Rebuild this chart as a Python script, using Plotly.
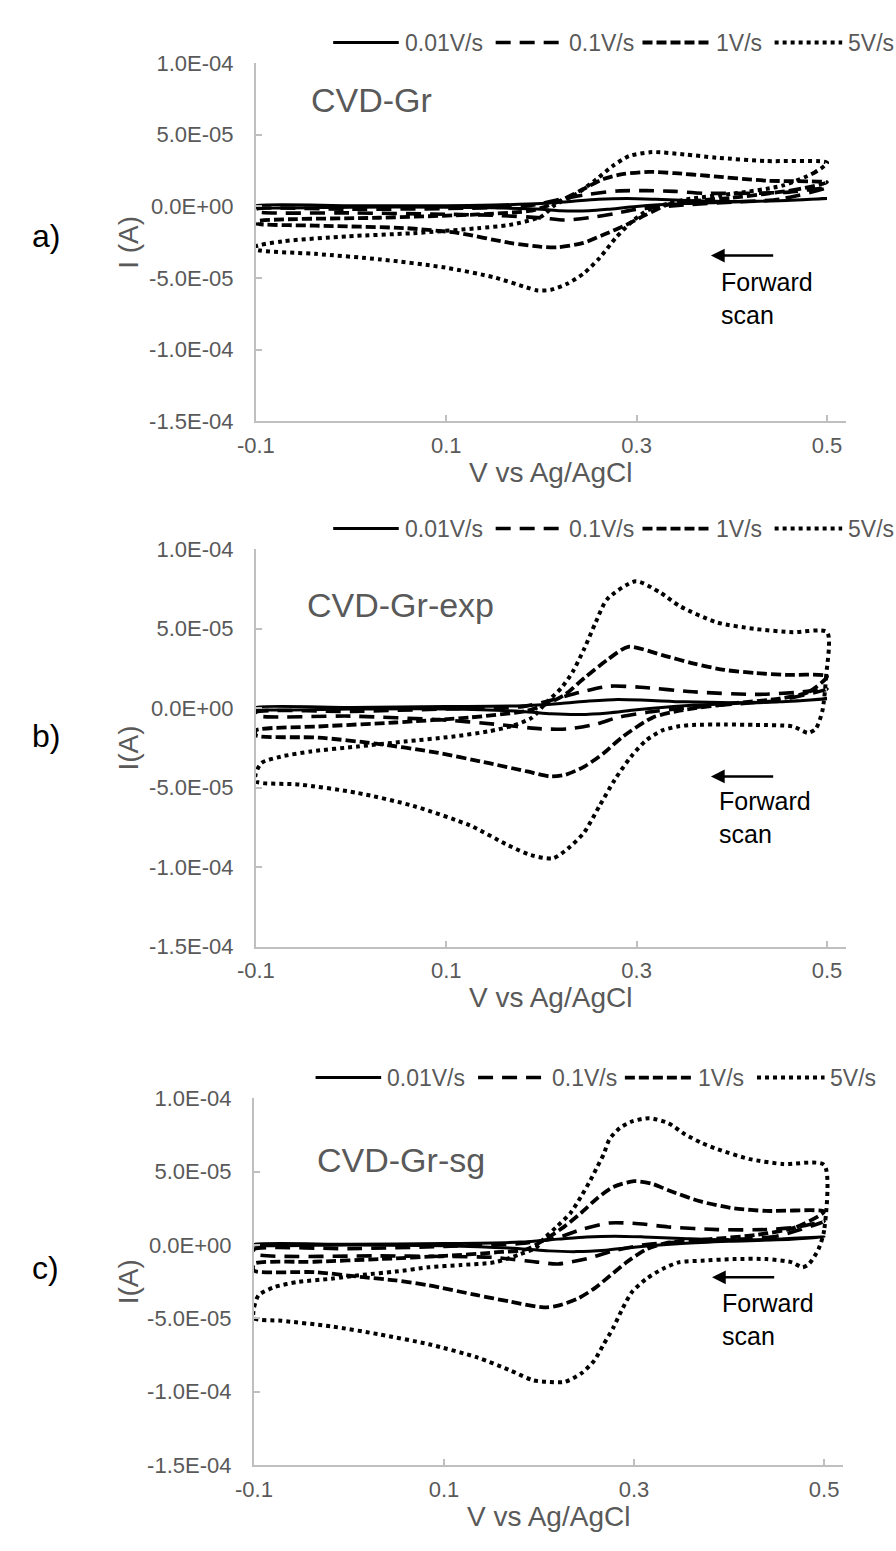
import plotly.graph_objects as go

W, H = 896, 1551
FONT = "Liberation Sans, Arial, sans-serif"
GRAY = "#595959"
AXC = "#bfbfbf"
SCALE = 1e-5  # current values below are in units of 1e-5 A

RATES = ["0.01V/s", "0.1V/s", "1V/s", "5V/s"]
X_TICKS = [-0.1, 0.1, 0.3, 0.5]
X_TICKTEXT = ["-0.1", "0.1", "0.3", "0.5"]
Y_TICKS = [1.0e-4, 5.0e-5, 0.0, -5.0e-5, -1.0e-4, -1.5e-4]
Y_TICKTEXT = ["1.0E-04", "5.0E-05", "0.0E+00", "-5.0E-05", "-1.0E-04", "-1.5E-04"]

# ---------------- panel a) CVD-Gr ----------------
A_V_001 = [0.5, 0.45, 0.4, 0.35, 0.3, 0.27, 0.25, 0.22, 0.2, 0.15, 0.1, 0.0, -0.1,
           -0.1, 0.0, 0.1, 0.15, 0.2, 0.23, 0.26, 0.29, 0.32, 0.36, 0.4, 0.45, 0.5]
A_I_001 = [0.55, 0.4, 0.3, 0.2, 0.0, -0.2, -0.3, -0.3, -0.2, -0.1, -0.05, -0.05, -0.05,
           0.05, 0.05, 0.05, 0.1, 0.2, 0.35, 0.5, 0.55, 0.5, 0.4, 0.35, 0.4, 0.55]
A_V_01 = [0.5, 0.45, 0.4, 0.35, 0.3, 0.278, 0.25, 0.224, 0.2, 0.15, 0.1, 0.0, -0.1,
          -0.1, 0.0, 0.1, 0.18, 0.2, 0.22, 0.25, 0.28, 0.31, 0.34, 0.37, 0.42, 0.46, 0.5]
A_I_01 = [1.3, 0.5, 0.3, 0.1, -0.2, -0.49, -0.79, -0.95, -0.8, -0.62, -0.55, -0.45, -0.35,
          -0.2, -0.2, -0.15, 0.0, 0.2, 0.5, 0.85, 1.08, 1.1, 1.05, 0.92, 0.92, 1.0, 1.3]
A_V_1 = [0.5, 0.47, 0.436, 0.4, 0.367, 0.333, 0.309, 0.289, 0.265, 0.244, 0.217, 0.2, 0.167,
         0.113, 0.058, -0.038, -0.1,
         -0.1, 0.03, 0.133, 0.19, 0.2, 0.217, 0.241, 0.265, 0.285, 0.313, 0.34, 0.374, 0.436, 0.5]
A_I_1 = [1.68, 1.2, 0.88, 0.6, 0.42, 0.13, -0.61, -1.29, -1.98, -2.55, -2.85, -2.82, -2.55,
         -1.86, -1.52, -1.34, -1.18,
         -1.06, -0.79, -0.56, -0.3, -0.1, 0.31, 1.11, 1.91, 2.25, 2.41, 2.32, 2.14, 1.8, 1.68]
A_V_5 = [0.5, 0.487, 0.453, 0.4, 0.357, 0.333, 0.312, 0.295, 0.278, 0.261, 0.244, 0.227, 0.21,
         0.196, 0.184, 0.15, 0.099, 0.031, -0.038, -0.1,
         -0.1, -0.072, -0.004, 0.065, 0.133, 0.167, 0.2, 0.214, 0.237, 0.258, 0.275, 0.292,
         0.316, 0.35, 0.384, 0.436, 0.5]
A_I_5 = [3.05, 2.37, 1.45, 0.88, 0.54, 0.2, -0.26, -1.06, -2.2, -3.6, -4.7, -5.4, -5.82,
         -5.87, -5.65, -4.95, -4.27, -3.7, -3.31, -3.0,
         -2.8, -2.44, -2.09, -1.87, -1.52, -1.29, -0.7, 0.1, 0.88, 1.91, 2.83, 3.51,
         3.79, 3.63, 3.4, 3.17, 3.05]

# ---------------- panel b) CVD-Gr-exp ----------------
B_V_001 = [0.5, 0.45, 0.4, 0.35, 0.3, 0.27, 0.24, 0.21, 0.18, 0.1, 0.0, -0.1,
           -0.1, 0.0, 0.1, 0.18, 0.22, 0.25, 0.28, 0.31, 0.35, 0.4, 0.45, 0.5]
B_I_001 = [0.6, 0.4, 0.3, 0.15, -0.1, -0.3, -0.4, -0.35, -0.2, -0.05, -0.05, -0.05,
           0.05, 0.05, 0.1, 0.15, 0.3, 0.45, 0.55, 0.5, 0.4, 0.35, 0.4, 0.6]
B_V_01 = [0.5, 0.45, 0.4, 0.35, 0.31, 0.28, 0.258, 0.228, 0.2, 0.15, 0.1, 0.0, -0.1,
          -0.1, 0.0, 0.1, 0.18, 0.21, 0.24, 0.271, 0.304, 0.359, 0.425, 0.47, 0.5]
B_I_01 = [1.2, 0.5, 0.25, 0.0, -0.27, -0.58, -0.99, -1.3, -1.3, -1.0, -0.75, -0.5, -0.45,
          -0.25, -0.2, -0.05, 0.1, 0.5, 1.0, 1.38, 1.32, 1.03, 0.87, 1.0, 1.2]
B_V_1 = [0.5, 0.48, 0.45, 0.4, 0.345, 0.317, 0.285, 0.265, 0.245, 0.225, 0.209, 0.185, 0.145,
         0.085, 0.026, -0.034, -0.1,
         -0.1, -0.034, 0.046, 0.125, 0.185, 0.205, 0.225, 0.245, 0.269, 0.291, 0.327, 0.359,
         0.392, 0.425, 0.457, 0.5]
B_I_1 = [2.0, 1.0, 0.6, 0.3, -0.16, -0.58, -1.81, -2.85, -3.67, -4.19, -4.29, -3.98, -3.46,
         -2.74, -2.23, -1.85, -1.7,
         -1.4, -1.15, -0.9, -0.58, -0.16, 0.25, 0.87, 1.9, 3.03, 3.86, 3.34, 2.82,
         2.41, 2.21, 2.1, 2.0]
B_V_5 = [0.5, 0.499, 0.495, 0.488, 0.48, 0.464, 0.425, 0.392, 0.359, 0.343, 0.327, 0.31, 0.294,
         0.277, 0.261, 0.245, 0.228, 0.212, 0.189, 0.165, 0.125, 0.065, 0.006, -0.054, -0.1,
         -0.1, -0.094, -0.074, -0.042, 0.007, 0.056, 0.106, 0.145, 0.17, 0.19, 0.205, 0.221,
         0.233, 0.245, 0.257, 0.269, 0.299, 0.325, 0.345, 0.384, 0.424, 0.464, 0.5]
B_I_5 = [4.78, 2.0, -0.2, -1.3, -1.55, -1.15, -1.05, -1.03, -1.05, -1.15, -1.4, -2.02, -3.05,
         -4.5, -6.14, -7.8, -8.82, -9.44, -9.24, -8.62, -7.38, -6.14, -5.32, -4.8, -4.6,
         -4.1, -3.44, -3.05, -2.72, -2.41, -2.1, -1.79, -1.45, -1.1, -0.6, 0.35, 1.28,
         2.31, 3.75, 5.4, 6.85, 7.98, 7.26, 6.43, 5.4, 4.99, 4.78, 4.78]

# ---------------- panel c) CVD-Gr-sg ----------------
C_V_001 = [0.5, 0.45, 0.4, 0.35, 0.3, 0.27, 0.24, 0.21, 0.18, 0.1, 0.0, -0.1,
           -0.1, 0.0, 0.1, 0.18, 0.22, 0.25, 0.28, 0.31, 0.35, 0.4, 0.45, 0.5]
C_I_001 = [0.55, 0.35, 0.25, 0.1, -0.15, -0.35, -0.45, -0.4, -0.25, -0.05, 0.0, 0.0,
           0.05, 0.05, 0.1, 0.2, 0.4, 0.55, 0.6, 0.55, 0.45, 0.35, 0.4, 0.55]
C_V_01 = [0.5, 0.45, 0.405, 0.35, 0.313, 0.278, 0.251, 0.22, 0.2, 0.153, 0.101, 0.032, -0.1,
          -0.1, 0.0, 0.1, 0.18, 0.219, 0.244, 0.274, 0.305, 0.336, 0.388, 0.439, 0.47, 0.5]
C_I_01 = [1.6, 0.6, 0.38, 0.2, 0.04, -0.4, -0.92, -1.29, -1.18, -0.85, -0.78, -0.74, -0.6,
          -0.3, -0.25, -0.1, 0.1, 0.49, 1.05, 1.5, 1.45, 1.23, 1.05, 1.05, 1.2, 1.6]
C_V_1 = [0.5, 0.47, 0.43, 0.38, 0.336, 0.313, 0.292, 0.275, 0.258, 0.241, 0.22, 0.205, 0.17,
         0.135, 0.084, 0.049, 0.015, -0.036, -0.1,
         -0.1, -0.036, 0.032, 0.101, 0.153, 0.187, 0.209, 0.227, 0.244, 0.261, 0.278, 0.3,
         0.319, 0.336, 0.371, 0.405, 0.439, 0.5]
C_I_1 = [2.28, 1.2, 0.7, 0.4, 0.16, -0.29, -1.18, -2.08, -2.97, -3.64, -4.13, -4.25, -3.86,
         -3.42, -2.75, -2.41, -2.19, -1.85, -1.74,
         -1.29, -1.14, -0.96, -0.74, -0.51, -0.29, 0.49, 1.27, 2.17, 3.17, 3.95, 4.35,
         4.17, 3.73, 2.95, 2.5, 2.32, 2.28]
C_V_5 = [0.5, 0.5, 0.494, 0.484, 0.477, 0.466, 0.439, 0.405, 0.371, 0.347, 0.33, 0.313, 0.298,
         0.288, 0.278, 0.268, 0.258, 0.244, 0.227, 0.211, 0.194, 0.17, 0.135, 0.084, 0.032,
         -0.019, -0.071, -0.1,
         -0.1, -0.095, -0.078, -0.054, -0.019, 0.015, 0.049, 0.084, 0.118, 0.153, 0.18, 0.197,
         0.206, 0.219, 0.233, 0.244, 0.254, 0.261, 0.268, 0.274, 0.285, 0.298, 0.316, 0.336,
         0.354, 0.371, 0.388, 0.422, 0.457, 0.5]
C_I_5 = [5.45, 1.0, -0.29, -1.29, -1.52, -1.18, -0.96, -0.96, -1.07, -1.18, -1.63, -2.3, -3.19,
         -4.31, -5.65, -6.76, -7.88, -8.77, -9.33, -9.33, -9.22, -8.55, -7.66, -6.76, -6.09,
         -5.54, -5.16, -4.98,
         -4.31, -3.42, -2.86, -2.52, -2.3, -2.03, -1.81, -1.52, -1.36, -1.18, -0.63, -0.18,
         0.49, 1.27, 2.17, 3.28, 4.4, 5.29, 6.18, 7.19, 7.97, 8.42, 8.64, 8.3,
         7.52, 6.96, 6.52, 5.85, 5.51, 5.45]

PANEL_NAMES = ["CVD-Gr", "CVD-Gr-exp", "CVD-Gr-sg"]
PANEL_LETTERS = ["a)", "b)", "c)"]
Y_TITLES = ["I (A)", "I(A)", "I(A)"]
X_TITLE = "V vs Ag/AgCl"
ARROW_TEXT = "Forward<br>scan"

SERIES = [
    [(A_V_001, A_I_001), (A_V_01, A_I_01), (A_V_1, A_I_1), (A_V_5, A_I_5)],
    [(B_V_001, B_I_001), (B_V_01, B_I_01), (B_V_1, B_I_1), (B_V_5, B_I_5)],
    [(C_V_001, C_I_001), (C_V_01, C_I_01), (C_V_1, C_I_1), (C_V_5, C_I_5)],
]

# ---------------- styles / layout geometry (pixels) ----------------
DASHES = ["solid", "15px,9px", "10px,4px", "4px,4px"]
WIDTHS = [3, 3.6, 3.8, 4]
# plot area: (left, right, top, bottom) in page pixels
BOXES = [(242, 845, 52, 416), (242, 845, 546, 950), (240, 842, 1104, 1477)]
LEGEND_Y = [31, 525, 1083]
LEGEND_SHIFT = [0, 0, -18]
NAME_POS = [(-0.044, 7.4e-5), (-0.048, 6.47e-5), (-0.036, 5.82e-5)]
ARROW_POS = [(0.378, 0.445, -3.43e-5, 0.387, -6.4e-5),
             (0.378, 0.445, -4.29e-5, 0.384, -6.85e-5),
             (0.382, 0.449, -2.2e-5, 0.39, -5.05e-5)]
LETTER_Y = [228, 736, 1277]

fig = go.Figure()
for p in range(3):
    suffix = "" if p == 0 else str(p + 1)
    for r in range(4):
        v, i = SERIES[p][r]
        fig.add_trace(go.Scatter(
            x=v, y=[val * SCALE for val in i], mode="lines", name=RATES[r],
            showlegend=False, xaxis="x" + suffix, yaxis="y" + suffix,
            line=dict(color="black", width=WIDTHS[r], dash=DASHES[r],
                      shape="spline", smoothing=0.7),
            hoverinfo="x+y+name"))

layout = dict(width=W, height=H, margin=dict(l=0, r=0, t=0, b=0),
              paper_bgcolor="white", plot_bgcolor="white",
              font=dict(family=FONT, color=GRAY), showlegend=False)
annotations = []
shapes = []


def px(xp):
    return xp / W


def py(yp):
    return 1 - yp / H


for p in range(3):
    suffix = "" if p == 0 else str(p + 1)
    L, R, T, B = BOXES[p]
    common = dict(showline=True, linecolor=AXC, linewidth=2, ticks="inside", ticklen=6,
                  tickwidth=2, tickcolor=AXC, showgrid=False, zeroline=False,
                  tickfont=dict(family=FONT, size=22, color=GRAY))
    layout["xaxis" + suffix] = dict(common, domain=[px(L), px(R)], range=[-0.1, 0.52],
                                    tickvals=X_TICKS, ticktext=X_TICKTEXT,
                                    anchor="y" + suffix, ticklabelstandoff=3)
    layout["yaxis" + suffix] = dict(common, domain=[py(B), py(T)], range=[-1.5e-4, 1.0e-4],
                                    tickvals=Y_TICKS, ticktext=Y_TICKTEXT,
                                    anchor="x" + suffix, ticklabelstandoff=16)
    xr, yr = "x" + suffix, "y" + suffix
    # axis titles
    annotations.append(dict(text=X_TITLE, x=px((L + R) / 2), y=py(B + 52), xref="paper",
                            yref="paper", showarrow=False, xanchor="center", yanchor="middle",
                            font=dict(size=28, color=GRAY, family=FONT)))
    annotations.append(dict(text=Y_TITLES[p], x=px(112), y=py((T + B) / 2), xref="paper",
                            yref="paper", showarrow=False, textangle=-90,
                            xanchor="center", yanchor="middle",
                            font=dict(size=28, color=GRAY, family=FONT)))
    annotations.append(dict(text=PANEL_LETTERS[p], x=px(11), y=py(LETTER_Y[p]), xref="paper",
                            yref="paper", showarrow=False, xanchor="left", yanchor="middle",
                            font=dict(size=32, color="black", family=FONT)))
    # panel name
    nx, ny = NAME_POS[p]
    annotations.append(dict(text=PANEL_NAMES[p], x=nx, y=ny, xref=xr, yref=yr,
                            showarrow=False, xanchor="left", yanchor="middle",
                            font=dict(size=34, color=GRAY, family=FONT)))
    # forward scan arrow + text
    hx, tx, ay, txx, tyy = ARROW_POS[p]
    annotations.append(dict(text="", x=hx, y=ay, ax=tx, ay=ay, xref=xr, yref=yr,
                            axref=xr, ayref=yr, showarrow=True, arrowhead=2,
                            arrowsize=1.1, arrowwidth=2.5, arrowcolor="black"))
    annotations.append(dict(text=ARROW_TEXT, x=txx, y=tyy, xref=xr, yref=yr,
                            showarrow=False, xanchor="left", yanchor="middle", align="left",
                            font=dict(size=25, color="black", family=FONT)))
    # legend (drawn as layout decoration)
    s = LEGEND_SHIFT[p]
    ly = LEGEND_Y[p]
    samples = [(321, 388), (487, 556), (637, 706), (772, 841)]
    texts_x = [392, 560, 710, 845]
    for r in range(4):
        x0, x1 = samples[r]
        shapes.append(dict(type="line", xref="paper", yref="paper",
                           x0=px(x0 + s), x1=px(x1 + s), y0=py(ly), y1=py(ly),
                           line=dict(color="black", width=WIDTHS[r], dash=DASHES[r])))
        annotations.append(dict(text=RATES[r], x=px(texts_x[r] + s), y=py(ly),
                                xref="paper", yref="paper", showarrow=False,
                                xanchor="left", yanchor="middle",
                                font=dict(size=23, color=GRAY, family=FONT)))

layout["annotations"] = annotations
layout["shapes"] = shapes
fig.update_layout(**layout)
fig.write_html("out.html")
